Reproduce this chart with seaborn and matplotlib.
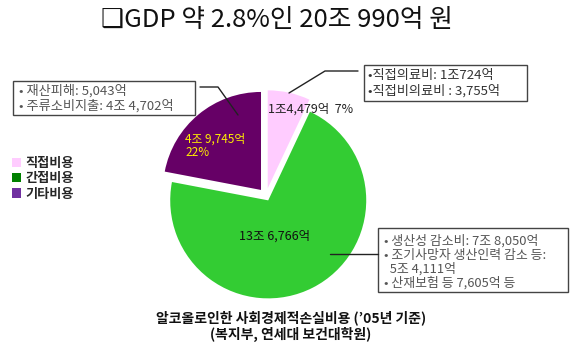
import seaborn as sns
import matplotlib.pyplot as plt
from matplotlib.patches import Patch, Rectangle

sns.set_style("white")
plt.rcParams['font.family'] = ['Noto Sans CJK KR', 'DejaVu Sans']
plt.rcParams['axes.unicode_minus'] = False

# 데이터
categories = ["직접비용", "간접비용", "기타비용"]
amounts = ["1조4,479억", "13조 6,766억", "4조 9,745억"]
shares = [7, 71, 22]
slice_colors = ["#FFCCFF", "#33CC33", "#660066"]
legend_colors = ["#FFCCFF", "#008000", "#7030A0"]
explode = [0.08, 0.05, 0.08]

box_direct = ["•직접의료비: 1조724억", "•직접비의료비 : 3,755억"]
box_indirect = ["• 생산성 감소비: 7조 8,050억", "• 조기사망자 생산인력 감소 등:",
                "  5조 4,111억", "• 산재보험 등 7,605억 등"]
box_other = ["• 재산피해: 5,043억", "• 주류소비지출: 4조 4,702억"]

W, H = 580, 352
fig = plt.figure(figsize=(W / 100, H / 100), dpi=100)

# 원그래프
ax = fig.add_axes([143.5 / W, 1 - 318.5 / H, 245 / W, 245 / H])
ax.pie(shares, colors=slice_colors, explode=explode, startangle=90,
       counterclock=False, wedgeprops=dict(linewidth=0))
ax.set_xlim(-1.25, 1.25)
ax.set_ylim(-1.25, 1.25)
ax.set_aspect("equal")
ax.axis("off")

# 주석용 오버레이 (픽셀 좌표)
ov = fig.add_axes([0, 0, 1, 1], facecolor="none")
ov.set_xlim(0, W)
ov.set_ylim(H, 0)
ov.axis("off")

ov.text(277, 20, "❑GDP 약 2.8%인 20조 990억 원", fontsize=18.5, ha="center", va="center",
        color="#111111")

# 조각 라벨
ov.text(268, 109, f"{amounts[0]}  {shares[0]}%", fontsize=9, va="center", color="#222222")
ov.text(275, 236, amounts[1], fontsize=9, ha="center", va="center", color="#111111")
ov.text(185, 139, amounts[2], fontsize=8.5, va="center", color="#FFEE00")
ov.text(185, 153, f"{shares[2]}%", fontsize=8.5, va="center", color="#FFEE00")

def draw_box(x0, y0, x1, y1, lines, tx, ty, step, size, color):
    ov.add_patch(Rectangle((x0, y0), x1 - x0, y1 - y0, fill=False,
                           edgecolor="#444444", linewidth=1))
    for i, s in enumerate(lines):
        ov.text(tx, ty + i * step, s, fontsize=size, va="center", color=color)

draw_box(13, 81, 195, 115, box_other, 19, 91, 15, 9.5, "#555555")
draw_box(364, 65, 527, 101, box_direct, 368, 75, 16, 9.5, "#333333")
draw_box(378, 228, 568, 292, box_indirect, 384, 241, 14, 9.3, "#555555")

# 연결선
ov.plot([200, 218, 238], [87, 87, 115], color="#222222", lw=1)
ov.plot([358, 325, 289], [71, 71, 93], color="#222222", lw=1)
ov.plot([330, 378], [254, 254], color="#222222", lw=1)

# 범례
handles = [Patch(facecolor=c, edgecolor="none") for c in legend_colors]
leg = fig.legend(handles, categories, loc="upper left", bbox_to_anchor=(0 / W, 1 - 144 / H),
                 frameon=False, handlelength=0.7, handleheight=0.7, handletextpad=0.3,
                 labelspacing=0.1, prop=dict(size=9.5, weight="bold"))

# 캡션
ov.text(291, 318, "알코올로인한 사회경제적손실비용 (’05년 기준)", fontsize=10, weight="bold",
        ha="center", va="center", color="#111111")
ov.text(291, 334, "(복지부, 연세대 보건대학원)", fontsize=10, weight="bold",
        ha="center", va="center", color="#111111")

fig.savefig("out.png", dpi=100, facecolor="white")
